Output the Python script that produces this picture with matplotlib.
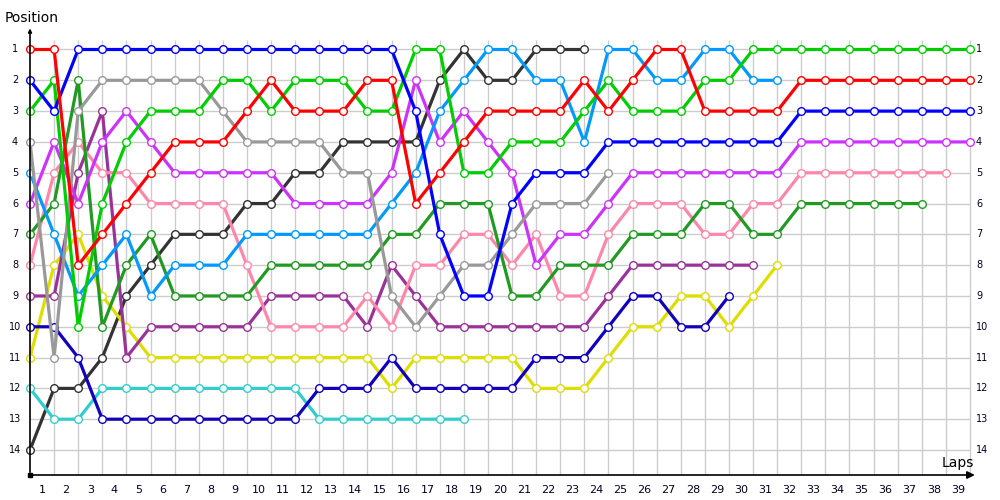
import matplotlib
matplotlib.use('Agg')
import matplotlib.pyplot as plt

# ---- data: position per lap (lap 0 = start) ----
lap_labels = [str(i) for i in range(1, 40)]
positions = list(range(1, 15))

red = [1,1,8,7,6,5,4,4,4,3, 2,3,3,3,2,2,6,5,4,3, 3,3,3,2,3,2,1,1,3,3, 3,3,2,2,2,2,2,2,2,2]
blue = [2,3,1,1,1,1,1,1,1,1, 1,1,1,1,1,1,3,7,9,9, 6,5,5,5,4,4,4,4,4,4, 4,4,3,3,3,3,3,3,3,3]
green = [3,2,10,6,4,3,3,3,2,2, 3,2,2,2,3,3,1,1,5,5, 4,4,4,3,2,3,3,3,2,2, 1,1,1,1,1,1,1,1,1,1]
gray = [4,11,3,2,2,2,2,2,3,4, 4,4,4,5,5,9,10,9,8,8, 7,6,6,6,5]
lightblue = [5,7,9,8,7,9,8,8,8,7, 7,7,7,7,7,6,5,3,2,1, 1,2,2,4,1,1,2,2,1,1, 2,2]
violet = [6,4,6,4,3,4,5,5,5,5, 5,6,6,6,6,5,2,4,3,4, 5,8,7,7,6,5,5,5,5,5, 5,5,4,4,4,4,4,4,4,4]
darkgreen = [7,6,2,10,8,7,9,9,9,9, 8,8,8,8,8,7,7,6,6,6, 9,9,8,8,8,7,7,7,6,6, 7,7,6,6,6,6,6,6]
pink = [8,5,4,5,5,6,6,6,6,8, 10,10,10,10,9,10,8,8,7,7, 8,7,9,9,7,6,6,6,7,7, 6,6,5,5,5,5,5,5,5]
purple = [9,9,5,3,11,10,10,10,10,10, 9,9,9,9,10,8,9,10,10,10, 10,10,10,10,9,8,8,8,8,8, 8]
darkblue = [10,10,11,13,13,13,13,13,13,13, 13,13,12,12,12,11,12,12,12,12, 12,11,11,11,10,9,9,10,10,9]
yellow = [11,8,7,9,10,11,11,11,11,11, 11,11,11,11,11,12,11,11,11,11, 11,12,12,12,11,10,10,9,9,10, 9,8]
cyan = [12,13,13,12,12,12,12,12,12,12, 12,12,13,13,13,13,13,13,13]
black = [14,12,12,11,9,8,7,7,7,6, 6,5,5,4,4,4,4,2,1,2, 2,1,1,1]

series = [
    (black, '#333333'),
    (cyan, '#33cccc'),
    (yellow, '#dddd00'),
    (darkblue, '#1100bb'),
    (purple, '#993399'),
    (pink, '#ff88aa'),
    (darkgreen, '#229922'),
    (violet, '#cc33ff'),
    (lightblue, '#0099ff'),
    (gray, '#999999'),
    (green, '#00cc00'),
    (blue, '#0000ff'),
    (red, '#ff0000'),
]

# ---- layout ----
fig = plt.figure(figsize=(10, 5), dpi=100)
ax = fig.add_axes([0.03, 0.05, 0.95, 0.90])
PXL = 940 / 39.0          # px per lap
PXP = 30.81               # px per position
XMAX = 950 / PXL
YB = 14 + 25 / PXP
YT = 1 - 24.5 / PXP
ax.set_xlim(0, XMAX)
ax.set_ylim(YB, YT)
ax.axis('off')

nlaps = len(lap_labels)
# grid
ax.vlines(range(1, nlaps + 1), 1 - 9.5 / PXP, YB, colors='#cccccc', lw=1, zorder=0)
ax.hlines(positions, 0, nlaps, colors='#cccccc', lw=1, zorder=0)

# axes with arrows
ax.annotate('', xy=(XMAX - 0.1, YB), xytext=(0, YB),
            arrowprops=dict(arrowstyle='-|>', color='black', lw=1.2, mutation_scale=11),
            annotation_clip=False, zorder=5)
ax.annotate('', xy=(0, YT + 0.02), xytext=(0, YB),
            arrowprops=dict(arrowstyle='-|>', color='black', lw=1.2, mutation_scale=5),
            annotation_clip=False, zorder=5)
ax.plot([0], [YB], marker='s', ms=2.5, color='black', clip_on=False, zorder=6)

# series
for vals, col in series:
    xs = list(range(len(vals)))
    ax.plot(xs, vals, color=col, lw=2.3, marker='o', ms=5.5, mfc='white',
            mec=col, mew=1.0, zorder=3, clip_on=False, solid_capstyle='round')

# tick labels
for i, lab in enumerate(lap_labels):
    ax.text(i + 0.5, 14 + 43 / PXP, lab, ha='center', va='baseline',
            fontsize=8, color='#000022')
for p in positions:
    ax.text(-15 / PXL, p, str(p), ha='center', va='center', fontsize=7, color='#000022')
    ax.text(946 / PXL, p, str(p), ha='left', va='center', fontsize=7, color='#000022')

fig.text(5 / 1000, 1 - 22 / 500, 'Position', ha='left', va='baseline', fontsize=10)
fig.text(974 / 1000, 1 - 467 / 500, 'Laps', ha='right', va='baseline', fontsize=10)

fig.savefig('out.png', dpi=100)
